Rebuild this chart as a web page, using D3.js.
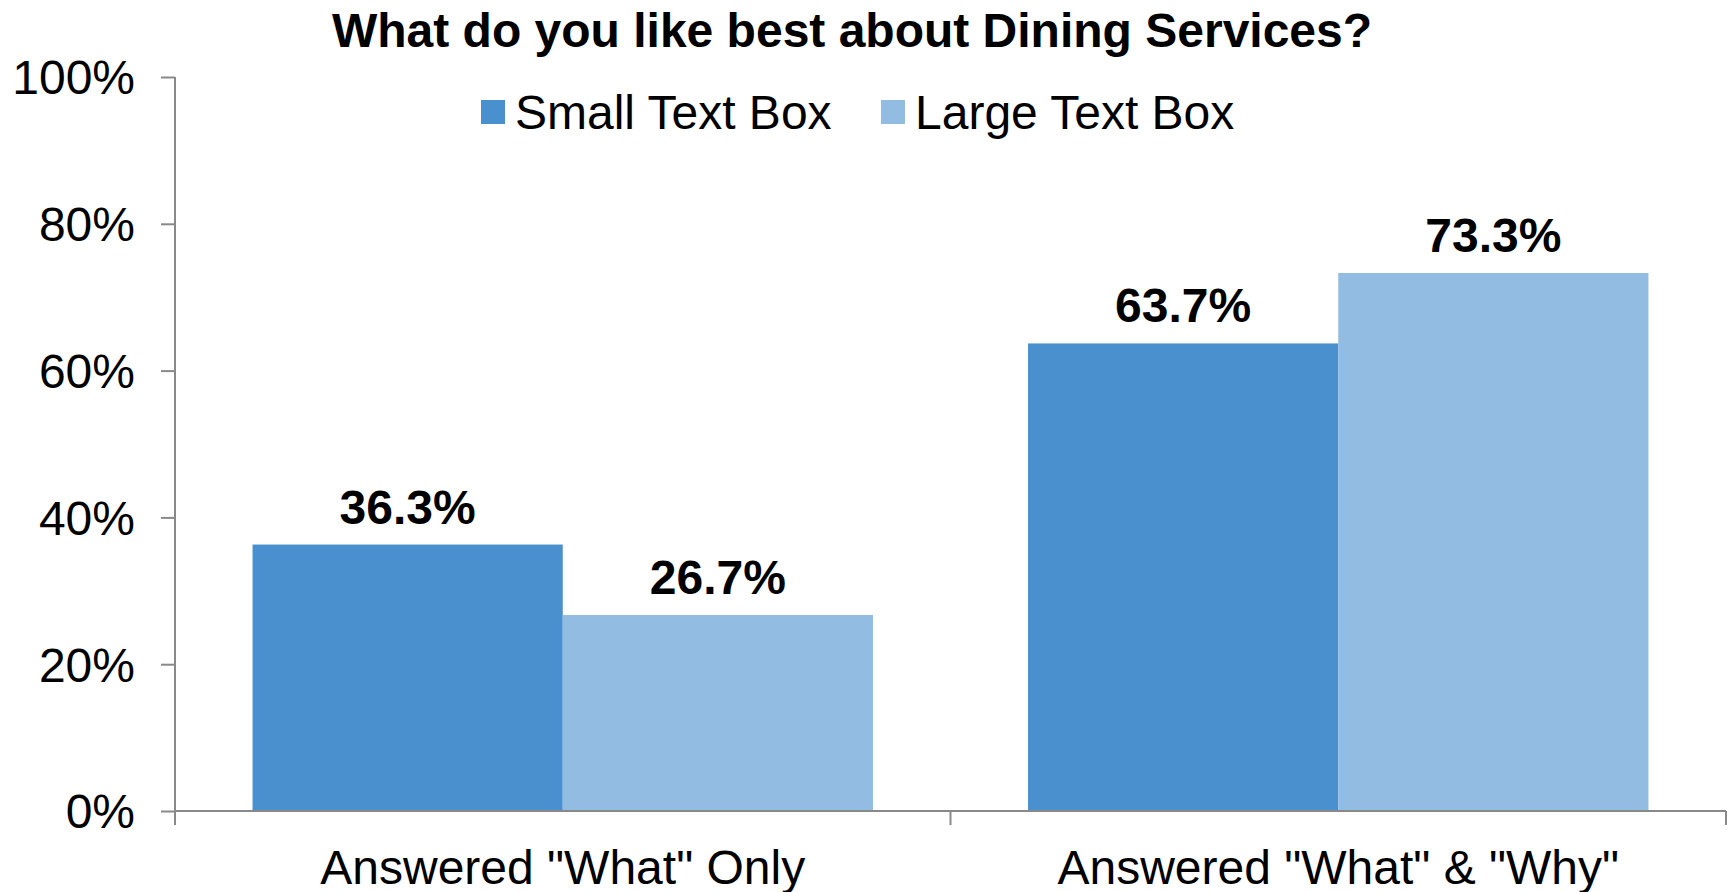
<!DOCTYPE html>
<html>
<head>
<meta charset="utf-8">
<script src="https://cdn.jsdelivr.net/npm/d3@7"></script>
<style>
  html, body { margin: 0; padding: 0; background: #ffffff; }
  svg text { font-family: "Liberation Sans", Arial, sans-serif; fill: #000; }
</style>
</head>
<body>
<svg id="chart" width="1733" height="892"></svg>
<script>
// Survey results: share of responses per answer type, by text box size
const categories = ['Answered "What" Only', 'Answered "What" & "Why"'];
const seriesNames = ["Small Text Box", "Large Text Box"];
const smallBox = [36.3, 63.7];
const largeBox = [26.7, 73.3];
const yTicks = [0, 20, 40, 60, 80, 100];
const title = "What do you like best about Dining Services?";

const colors = { "Small Text Box": "#4a8fce", "Large Text Box": "#92bce2" };
const rows = categories.map((c, i) => ({
  category: c,
  values: [
    { series: seriesNames[0], value: smallBox[i] },
    { series: seriesNames[1], value: largeBox[i] }
  ]
}));

const svg = d3.select("#chart");
const plot = { left: 175, right: 1726, top: 77, bottom: 811 };
const axisColor = "#898989";
const fontSize = 48;

const x0 = d3.scaleBand()
  .domain(categories)
  .range([plot.left, plot.right])
  .paddingInner(0.2)
  .paddingOuter(0.1);
const x1 = d3.scaleBand()
  .domain(seriesNames)
  .range([0, x0.bandwidth()]);
const y = d3.scaleLinear().domain([0, 100]).range([plot.bottom, plot.top]);

// Bars
const groups = svg.append("g").selectAll("g")
  .data(rows)
  .join("g")
  .attr("transform", d => `translate(${x0(d.category)},0)`);

groups.selectAll("rect")
  .data(d => d.values)
  .join("rect")
  .attr("x", d => x1(d.series))
  .attr("y", d => y(d.value))
  .attr("width", x1.bandwidth())
  .attr("height", d => y(0) - y(d.value))
  .attr("fill", d => colors[d.series]);

// Value labels above bars
groups.selectAll("text")
  .data(d => d.values)
  .join("text")
  .attr("x", d => x1(d.series) + x1.bandwidth() / 2)
  .attr("y", d => y(d.value) - 21)
  .attr("text-anchor", "middle")
  .style("font-size", fontSize + "px")
  .style("font-weight", "bold")
  .text(d => d.value.toFixed(1) + "%");

// Y axis
const yAxis = d3.axisLeft(y)
  .tickValues(yTicks)
  .tickFormat(d => d + "%")
  .tickSize(14)
  .tickPadding(26);
const gy = svg.append("g")
  .attr("transform", `translate(${plot.left},0)`)
  .call(yAxis);
gy.select(".domain").attr("stroke", axisColor).attr("stroke-width", 2)
  .attr("d", `M0,${plot.top}V${plot.bottom}`);
gy.selectAll(".tick line").attr("stroke", axisColor).attr("stroke-width", 2);
gy.selectAll(".tick text")
  .attr("dy", "0.35em")
  .style("font-size", fontSize + "px")
  .style("font-family", '"Liberation Sans", Arial, sans-serif')
  .attr("fill", "#000");

// X axis: baseline, category boundary ticks and labels
const gx = svg.append("g").attr("transform", `translate(0,${plot.bottom})`);
gx.append("line")
  .attr("x1", plot.left).attr("x2", plot.right)
  .attr("y1", 0).attr("y2", 0)
  .attr("stroke", axisColor).attr("stroke-width", 2);
const step = x0.step();
const boundaries = [plot.left, plot.left + step, plot.right];
gx.selectAll("line.bound")
  .data(boundaries)
  .join("line")
  .attr("class", "bound")
  .attr("x1", d => d).attr("x2", d => d)
  .attr("y1", 0).attr("y2", 14)
  .attr("stroke", axisColor).attr("stroke-width", 2);
gx.selectAll("text")
  .data(categories)
  .join("text")
  .attr("x", d => x0(d) + x0.bandwidth() / 2)
  .attr("y", 73)
  .attr("text-anchor", "middle")
  .style("font-size", fontSize + "px")
  .text(d => d);

// Title
svg.append("text")
  .attr("x", 852)
  .attr("y", 47)
  .attr("text-anchor", "middle")
  .style("font-size", "48px")
  .style("font-weight", "bold")
  .text(title);

// Legend
const legend = svg.append("g");
const legendX = [481, 881];
const items = legend.selectAll("g")
  .data(seriesNames)
  .join("g")
  .attr("transform", (d, i) => `translate(${legendX[i]},0)`);
items.append("rect")
  .attr("x", 0).attr("y", 100)
  .attr("width", 24).attr("height", 24)
  .attr("fill", d => colors[d]);
items.append("text")
  .attr("x", 34)
  .attr("y", 129)
  .style("font-size", fontSize + "px")
  .text(d => d);
</script>
</body>
</html>
